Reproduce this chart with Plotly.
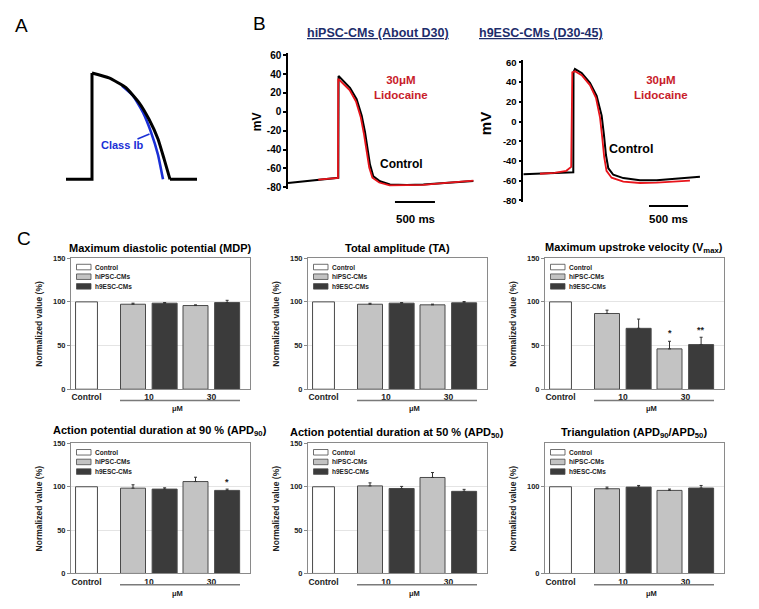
import plotly.graph_objects as go

W, H = 759, 609
FONT = "Liberation Sans"

# ---------------- data ----------------
# Panel A: schematic action potential (arbitrary units)
schem_ctrl_t = [0, 26, 26, 43, 60, 73, 83, 92, 98, 104, 131]
schem_ctrl_v = [0, 0, 108, 103, 93, 78, 61, 41, 21, 0, 0]
schem_ib_t = [56, 67, 77, 85, 92, 97]
schem_ib_v = [95, 85, 68, 48, 25, 0]

# Panel B: hiPSC-CMs traces (ms, mV)
ipsc_ctrl_t = [0, 300, 629, 632, 692, 775, 858, 921, 963, 996, 1025, 1067, 1150, 1275, 1483, 1692, 1900, 2108, 2317]
ipsc_ctrl_v = [-75.5, -72.5, -70, 38, 32.5, 25.5, 13.3, -4, -21.5, -39, -56, -68.5, -73.7, -77, -77.5, -77, -76, -74.5, -73.5]
ipsc_lido_t = [379, 600, 625, 628, 690, 770, 850, 910, 950, 985, 1015, 1055, 1140, 1270, 1480, 1690, 1900, 2110, 2317]
ipsc_lido_v = [-72, -70.5, -70, 35, 30, 23, 11, -6, -24, -42, -59, -70, -75, -78, -78, -77.5, -76, -74.5, -73]

# Panel B: h9ESC-CMs traces (ms, mV)
esc_ctrl_t = [0, 619, 640, 643, 661, 747, 853, 939, 1003, 1033, 1058, 1088, 1152, 1280, 1493, 1707, 1920, 2133, 2261]
esc_ctrl_v = [-53.4, -51.4, -51.4, 50, 53.3, 49.3, 39.3, 26, 6, -14, -34, -47.4, -54, -57.4, -59.7, -59.7, -58.4, -56.7, -56]
esc_lido_t = [213, 400, 550, 600, 613, 627, 661, 747, 853, 930, 982, 1010, 1035, 1065, 1130, 1280, 1493, 1707, 1920, 2133]
esc_lido_v = [-53, -52, -50, -47, -46, 50, 51, 47, 37, 24, 4, -16, -36, -50, -57, -61, -62.4, -62, -61, -60]

# Panel C: bar charts (normalized %, Control = 100)
groups = ["Control", "10", "30"]
dose_groups = ["10", "30"]
series_names = ["Control", "hiPSC-CMs", "h9ESC-CMs"]
control_value = [100]

mdp_ipsc, mdp_ipsc_err = [97.3, 95.8], [1.2, 0.8]
mdp_esc, mdp_esc_err = [98.5, 99.2], [0.7, 2.6]
ta_ipsc, ta_ipsc_err = [97.3, 96.6], [1.1, 0.8]
ta_esc, ta_esc_err = [98.5, 98.9], [0.7, 1.5]
vmax_ipsc, vmax_ipsc_err = [86.7, 46.2], [3.8, 8.7]
vmax_esc, vmax_esc_err = [69.7, 51.1], [10.6, 8.4]
apd90_ipsc, apd90_ipsc_err = [98.4, 106.0], [3.9, 5.0]
apd90_esc, apd90_esc_err = [97.3, 95.8], [1.5, 1.5]
apd50_ipsc, apd50_ipsc_err = [101.0, 110.7], [3.5, 5.7]
apd50_esc, apd50_esc_err = [98.0, 94.7], [2.4, 2.3]
tri_ipsc, tri_ipsc_err = [97.7, 95.8], [1.9, 1.5]
tri_esc, tri_esc_err = [99.6, 98.5], [1.9, 3.0]

chart_titles = [
    "Maximum diastolic potential (MDP)",
    "Total amplitude (TA)",
    "Maximum upstroke velocity (V<sub>max</sub>)",
    "Action potential duration at 90 % (APD<sub>90</sub>)",
    "Action potential duration at 50 % (APD<sub>50</sub>)",
    "Triangulation (APD<sub>90</sub>/APD<sub>50</sub>)",
]
chart_ipsc = [mdp_ipsc, ta_ipsc, vmax_ipsc, apd90_ipsc, apd50_ipsc, tri_ipsc]
chart_ipsc_err = [mdp_ipsc_err, ta_ipsc_err, vmax_ipsc_err, apd90_ipsc_err, apd50_ipsc_err, tri_ipsc_err]
chart_esc = [mdp_esc, ta_esc, vmax_esc, apd90_esc, apd50_esc, tri_esc]
chart_esc_err = [mdp_esc_err, ta_esc_err, vmax_esc_err, apd90_esc_err, apd50_esc_err, tri_esc_err]
# significance marks: (chart index, series index, dose index, label, y value)
sig_marks = [(2, 1, 1, "*", 64), (2, 2, 1, "**", 68), (3, 2, 1, "*", 106)]
y_tick_sets = [[0, 50, 100, 150]] * 5 + [[0, 100]]
mv_ticks = [-80, -60, -40, -20, 0, 20, 40, 60]

# ---------------- helpers ----------------
def px_x(a, b):
    return [a / W, b / W]

def px_y(top, bottom):
    return [1 - bottom / H, 1 - top / H]

def fx(p):
    return p / W

def fy(p):
    return 1 - p / H

fig = go.Figure()
annotations = []
shapes = []

def ann(text, x, y, size=10, color="black", bold=False, **kw):
    f = dict(family=FONT, size=size, color=color)
    if bold:
        f["weight"] = "bold"
    d = dict(text=text, x=x, y=y, xref=kw.pop("xref", "paper"), yref=kw.pop("yref", "paper"),
             showarrow=False, font=f, xanchor=kw.pop("xanchor", "center"),
             yanchor=kw.pop("yanchor", "middle"))
    d.update(kw)
    annotations.append(d)

layout_axes = {}

# ---------------- Panel A ----------------
fig.add_trace(go.Scatter(x=schem_ib_t, y=schem_ib_v, mode="lines",
                         line=dict(color="#1a2fd6", width=2.6, shape="spline", smoothing=0.4),
                         xaxis="x", yaxis="y", showlegend=False))
# straight baseline + upstroke, curved plateau/repolarisation, straight tail baseline
for sl, shp in [(slice(0, 3), "linear"), (slice(2, 10), "spline"), (slice(9, 11), "linear")]:
    fig.add_trace(go.Scatter(x=schem_ctrl_t[sl], y=schem_ctrl_v[sl], mode="lines",
                             line=dict(color="black", width=3, shape=shp, smoothing=0.4),
                             xaxis="x", yaxis="y", showlegend=False))
layout_axes["xaxis"] = dict(domain=px_x(64, 200), range=[-2, 134], visible=False)
layout_axes["yaxis"] = dict(domain=px_y(65, 182), range=[-4, 113], visible=False)
ann("Class Ib", 56, 35, size=11, color="#1a2fd6", bold=True, xref="x", yref="y")
shapes.append(dict(type="line", xref="x", yref="y", x0=71.5, y0=41, x1=83.5, y1=46,
                   line=dict(color="#1a2fd6", width=1.5)))
ann("A", fx(21), fy(22), size=19)
ann("B", fx(259), fy(20), size=19)
ann("C", fx(24), fy(238), size=19)

# ---------------- Panel B ----------------
def trace_axes(xid, yid, xdom, ydom, tsize):
    layout_axes["xaxis" + xid] = dict(domain=xdom, range=[0, 2400], visible=False)
    layout_axes["yaxis" + yid] = dict(domain=ydom, range=[-82, 62], showline=True, linecolor="black",
                                      linewidth=1.5, ticks="outside", ticklen=3, tickwidth=1.5,
                                      tickcolor="black", tickvals=mv_ticks,
                                      ticktext=[str(v) for v in mv_ticks], showgrid=False, zeroline=False,
                                      tickfont=dict(family=FONT, size=tsize, color="black", weight="bold"),
                                      anchor="x" + xid)

fig.add_trace(go.Scatter(x=ipsc_ctrl_t, y=ipsc_ctrl_v, mode="lines", line=dict(color="black", width=2),
                         xaxis="x2", yaxis="y2", showlegend=False))
fig.add_trace(go.Scatter(x=ipsc_lido_t, y=ipsc_lido_v, mode="lines", line=dict(color="#e8141b", width=1.8),
                         xaxis="x2", yaxis="y2", showlegend=False))
trace_axes("2", "2", px_x(288, 480), px_y(50.1, 187.9), 10)

fig.add_trace(go.Scatter(x=esc_ctrl_t, y=esc_ctrl_v, mode="lines", line=dict(color="black", width=2),
                         xaxis="x3", yaxis="y3", showlegend=False))
fig.add_trace(go.Scatter(x=esc_lido_t, y=esc_lido_v, mode="lines", line=dict(color="#e8141b", width=1.8),
                         xaxis="x3", yaxis="y3", showlegend=False))
trace_axes("3", "3", px_x(523.3, 710.8), px_y(57.3, 201.3), 9.5)

navy = "#1d2d6b"
for txt, cx in [("hiPSC-CMs (About D30)", 378), ("h9ESC-CMs (D30-45)", 605)]:
    annotations.append(dict(text=txt, x=fx(cx), y=fy(20), xref="paper", yref="paper", showarrow=False,
                            font=dict(family=FONT, size=12.5, color=navy, weight="bold", lineposition="under")))
ann("mV", fx(257), fy(120), size=12, bold=True, textangle=-90)
ann("mV", fx(485), fy(122), size=15, bold=True, textangle=-90)
lido_red = "#c8202a"
ann("30μM<br>Lidocaine", fx(401), fy(85), size=11.5, color=lido_red, bold=True)
ann("30μM<br>Lidocaine", fx(661), fy(85), size=11.5, color=lido_red, bold=True)
ann("Control", fx(401), fy(162), size=12, bold=True)
ann("Control", fx(631), fy(147), size=12.5, bold=True)
# scale bars (500 ms)
shapes.append(dict(type="line", xref="x2", yref="paper", x0=1337, x1=1837, y0=fy(201), y1=fy(201),
                   line=dict(color="black", width=2)))
shapes.append(dict(type="line", xref="x3", yref="paper", x0=1609, x1=2109, y0=fy(205), y1=fy(205),
                   line=dict(color="black", width=2)))
ann("500 ms", fx(415), fy(218), size=11.5, bold=True)
ann("500 ms", fx(668.5), fy(218), size=11.5, bold=True)

# ---------------- Panel C ----------------
UNIT = 62.5
X_LO, X_HI = -0.248, 2.608
ctrl_px = [86.5, 323.5, 560.5, 86.5, 323.5, 560.5]
row_px = [(258, 391), (258, 391), (258, 391), (446, 578), (446, 578), (446, 578)]
title_y = [248, 248, 248, 433, 435, 435]
bar_fill = ["white", "#c3c3c3", "#3b3b3b"]
bar_width = [0.35, 0.4, 0.4]
bar_offset = [-0.175, -0.456, 0.05]
frame_col = "#8a8a8a"
for i in range(6):
    n = i + 4
    xs, ys = str(n), str(n)
    left = ctrl_px[i] + X_LO * UNIT
    right = ctrl_px[i] + X_HI * UNIT
    top, bottom = row_px[i]
    vals = [control_value, chart_ipsc[i], chart_esc[i]]
    errs = [None, chart_ipsc_err[i], chart_esc_err[i]]
    xcats = [["Control"], dose_groups, dose_groups]
    for s in range(3):
        kw = {}
        if errs[s] is not None:
            kw["error_y"] = dict(type="data", array=errs[s], arrayminus=[0] * len(errs[s]), symmetric=False,
                                 color="#333333", thickness=1, width=1.5)
        fig.add_trace(go.Bar(x=xcats[s], y=vals[s], name=series_names[s], width=bar_width[s],
                             offset=bar_offset[s], marker=dict(color=bar_fill[s],
                                                               line=dict(color="#4a4a4a", width=1)),
                             xaxis="x" + xs, yaxis="y" + ys, showlegend=False, **kw))
    layout_axes["xaxis" + xs] = dict(domain=px_x(left, right), range=[X_LO, X_HI], type="category",
                                     categoryorder="array", categoryarray=groups, showline=True, mirror=True,
                                     linecolor=frame_col, linewidth=1, ticks="", showgrid=False,
                                     tickfont=dict(family=FONT, size=8.5, color="#222", weight="bold"),
                                     anchor="y" + ys)
    layout_axes["yaxis" + ys] = dict(domain=px_y(top, bottom), range=[0, 150], showline=True, mirror=True,
                                     linecolor=frame_col, linewidth=1, ticks="outside", ticklen=3,
                                     tickcolor=frame_col, tickvals=y_tick_sets[i], showgrid=True,
                                     gridcolor="#e4e4e4", gridwidth=1, zeroline=False,
                                     tickfont=dict(family=FONT, size=7.5, color="#222", weight="bold"),
                                     anchor="x" + xs)
    ann(chart_titles[i], fx((left + right) / 2), fy(title_y[i]), size=11, bold=True)
    ann("Normalized value (%)", fx(left - 32), fy((top + bottom) / 2), size=8.5, bold=True, color="#222",
        textangle=-90)
    # dose underline and unit
    shapes.append(dict(type="line", xref="x" + xs, yref="paper", x0=0.536, x1=2.456,
                       y0=fy(bottom + 11.5), y1=fy(bottom + 11.5), line=dict(color="#7a7a7a", width=1.5)))
    ann("μM", 1.46, fy(bottom + 20), size=7.5, color="#222", bold=True, xref="x" + xs)
    # legend (drawn inside the frame)
    for s in range(3):
        ry = top + 9 + s * 9.8
        shapes.append(dict(type="rect", xref="paper", yref="paper", x0=fx(left + 5.5), x1=fx(left + 20),
                           y0=fy(ry + 2.8), y1=fy(ry - 2.8), fillcolor=bar_fill[s],
                           line=dict(color="#4a4a4a", width=0.8)))
        ann(series_names[s], fx(left + 22), fy(ry), size=6.5, color="#222", bold=True, xanchor="left")

for ci, si, di, lab, yv in sig_marks:
    pos = 1 + di + bar_offset[si] + bar_width[si] / 2
    ann(lab, pos, yv, size=9, color="#222", bold=True, xref="x" + str(ci + 4), yref="y" + str(ci + 4))

fig.update_layout(
    width=W, height=H, margin=dict(l=0, r=0, t=0, b=0),
    paper_bgcolor="white", plot_bgcolor="white",
    barmode="overlay", showlegend=False,
    annotations=annotations, shapes=shapes,
    font=dict(family=FONT),
    **layout_axes,
)
fig.write_html("out.html")
